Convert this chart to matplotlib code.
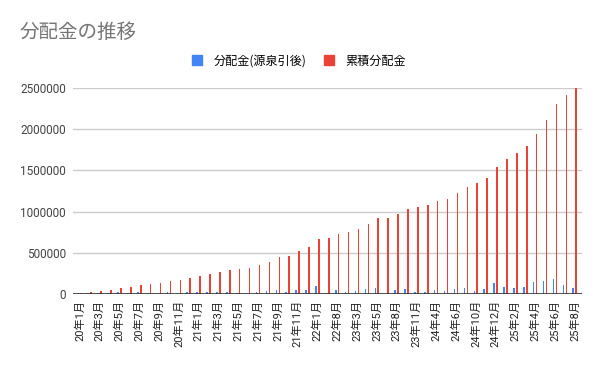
import numpy as np
import matplotlib
matplotlib.use('Agg')
import matplotlib.pyplot as plt
from matplotlib.lines import Line2D

plt.rcParams['font.family'] = ['Roboto', 'Noto Sans CJK JP', 'DejaVu Sans']

# Data (yen)
months = ['20年1月', '20年2月', '20年3月', '20年4月', '20年5月', '20年6月',
          '20年7月', '20年8月', '20年9月', '20年10月', '20年11月', '20年12月',
          '21年1月', '21年2月', '21年3月', '21年4月', '21年5月', '21年6月',
          '21年7月', '21年8月', '21年9月', '21年10月', '21年11月', '21年12月',
          '22年1月', '22年4月', '22年8月', '22年11月', '23年3月', '23年4月',
          '23年5月', '23年7月', '23年8月', '23年10月', '23年11月', '24年2月',
          '24年4月', '24年5月', '24年6月', '24年8月', '24年10月', '24年11月',
          '24年12月', '25年1月', '25年2月', '25年3月', '25年4月', '25年5月',
          '25年6月', '25年7月', '25年8月']

monthly = [12, 16, 12, 13, 20, 12, 20, 13, 12, 20, 12, 20,
           24, 25, 20, 24, 14, 13, 30, 38, 50, 26, 44, 50, 92,
           15, 44, 26, 32, 63, 68, 0, 44, 63, 26, 20, 50, 38,
           64, 73, 40, 55, 134, 90, 73, 80, 146, 162, 186, 109, 76]

cumulative = [12, 28, 40, 53, 77, 89, 113, 126, 138, 162, 174, 199,
              223, 248, 272, 296, 309, 321, 357, 394, 443, 467, 516, 565, 662,
              675, 724, 748, 784, 845, 918, 918, 967, 1028, 1052, 1077, 1126, 1158,
              1227, 1300, 1349, 1410, 1543, 1641, 1714, 1799, 1944, 2115, 2309, 2418, 2500]

monthly = np.array(monthly) * 1000
cumulative = np.array(cumulative) * 1000

blue = '#4285F4'
red = '#EA4335'

fig = plt.figure(figsize=(6, 3.71), dpi=100)
ax = fig.add_axes([73/600, 1 - 294/371, (582 - 73)/600, (294 - 88)/371])

x = np.arange(len(months))
w = 0.16
ax.bar(x - 0.15, monthly, width=w, color=blue, zorder=3)
ax.bar(x + 0.15, cumulative, width=w, color=red, zorder=3)

ax.set_xlim(-0.69, len(months) - 1 + 0.73)
ax.set_ylim(0, 2500000)
ax.set_yticks([0, 500000, 1000000, 1500000, 2000000, 2500000])
ax.set_yticklabels(['0', '500000', '1000000', '1500000', '2000000', '2500000'])
ax.yaxis.grid(True, color='#cccccc', linewidth=1, zorder=0)
ax.axhline(0, color='#333333', linewidth=1.2, zorder=4)

ax.set_xticks(x[::2])
ax.set_xticklabels(months[::2], rotation=90, fontsize=8, color='#222222')
ax.tick_params(axis='x', length=0, pad=4)
ax.tick_params(axis='y', length=0, pad=5, labelsize=8.5, labelcolor='#444444')

for s in ax.spines.values():
    s.set_visible(False)

fig.text(20/600, 1 - 32/371, '分配金の推移', fontsize=14, color='#757575',
         va='center', ha='left', family=['Noto Sans CJK JP'])

handles = [Line2D([], [], marker='s', linestyle='none', markersize=7, color=blue),
           Line2D([], [], marker='s', linestyle='none', markersize=7, color=red)]
fig.legend(handles, ['分配金(源泉引後)', '累積分配金'], loc='center',
           bbox_to_anchor=(299/600, 1 - 61/371), ncol=2, frameon=False,
           handlelength=0.9, handletextpad=0.9, columnspacing=1.4,
           prop={'family': 'Noto Sans CJK JP', 'size': 8.7})

fig.savefig('out.png', dpi=100, facecolor='white')
